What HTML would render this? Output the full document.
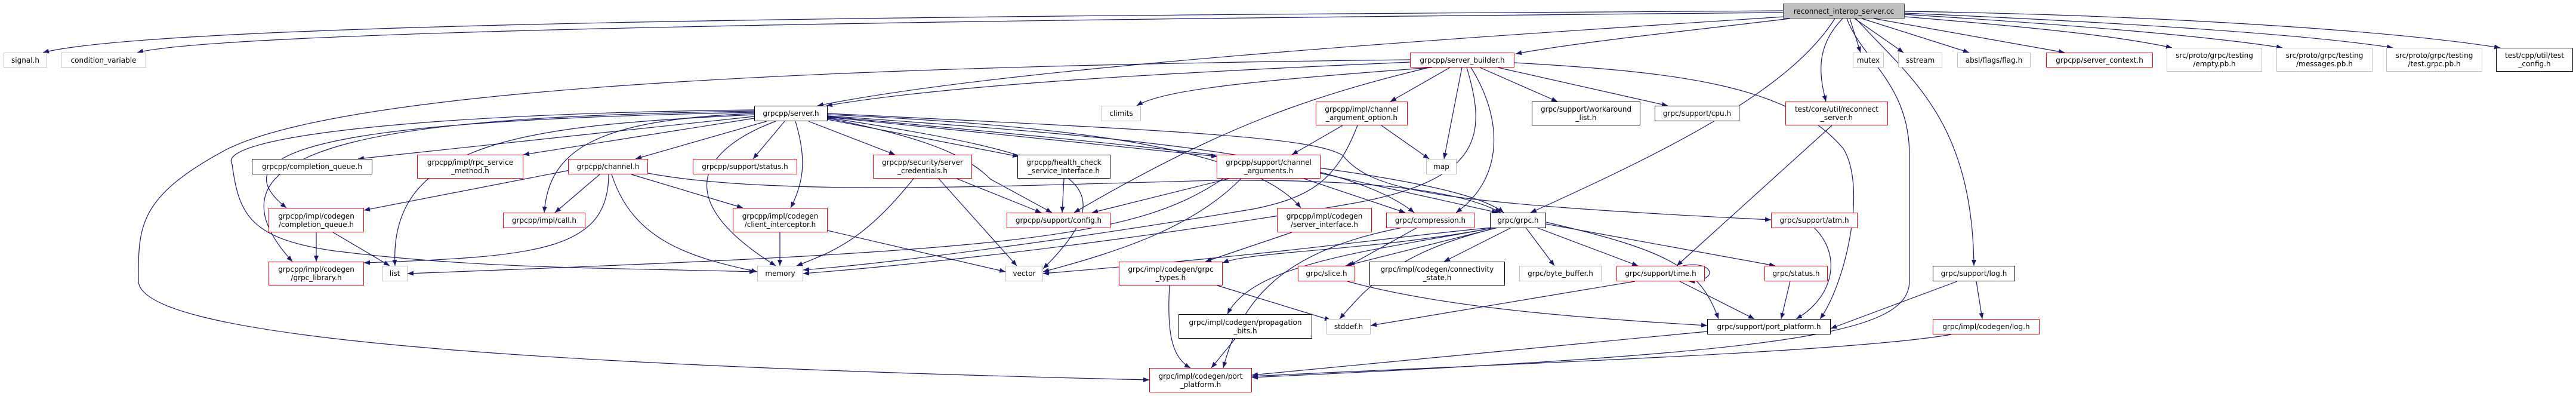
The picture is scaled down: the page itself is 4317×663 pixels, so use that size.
<!DOCTYPE html>
<html><head><meta charset="utf-8"><style>
html,body{margin:0;padding:0;background:#fff;}
#c{position:relative;width:4317px;height:663px;overflow:hidden;font-family:"DejaVu Sans","Liberation Sans",sans-serif;font-size:12px;color:#000;}
svg{position:absolute;left:0;top:0;}
.n{position:absolute;box-sizing:border-box;background:#fff;border:1px solid #000;display:flex;align-items:center;justify-content:center;text-align:center;line-height:14px;white-space:nowrap;}
.r{border-color:#f00;} .g{border-color:#bfbfbf;} .b{border-color:#000;}
</style></head><body><div id="c">
<svg width="4317" height="663" viewBox="0 0 4317 663">
<defs><marker id="a" viewBox="0 0 10 10" refX="10" refY="5" markerWidth="10" markerHeight="10" markerUnits="userSpaceOnUse" orient="auto"><path d="M0,1 L10,5 L0,9 z" fill="#191970"/></marker></defs>
<g fill="none" stroke="#191970" stroke-width="1.2" marker-end="url(#a)">
<path d="M2988,18 C2000,25 300,30 72,88"/>
<path d="M2988,21 C2000,30 400,45 230,88"/>
<path d="M2990,28 C2500,60 1700,110 1370,177"/>
<path d="M3000,31 C2800,55 2650,70 2540,90"/>
<path d="M3075,31 C3000,150 2800,250 2565,356"/>
<path d="M3088,31 C3040,80 3050,130 3060,170"/>
<path d="M3110,31 C3200,130 3305,200 3308,445"/>
<path d="M3095,31 C3120,100 3200,140 3200,260 L3200,470 C3200,560 3000,590 2098,632"/>
<path d="M3100,31 L3118,88"/>
<path d="M3108,31 L3190,88"/>
<path d="M3120,31 L3300,88"/>
<path d="M3140,31 L3460,88"/>
<path d="M3180,27 C3400,45 3550,60 3640,80"/>
<path d="M3190,24 C3450,40 3700,60 3825,80"/>
<path d="M3192,22 C3500,35 3850,55 4010,80"/>
<path d="M3192,19 C3600,25 4000,50 4190,80"/>
<path d="M2363,100 C1500,110 600,140 380,250 C230,330 232,380 232,470 C232,560 800,610 1926,636"/>
<path d="M2363,104 C2000,120 1600,140 1385,177"/>
<path d="M2400,113 C2100,135 1950,150 1905,177"/>
<path d="M2430,113 L2330,170"/>
<path d="M2450,113 L2420,266"/>
<path d="M2480,113 L2610,170"/>
<path d="M2510,113 L2795,177"/>
<path d="M2395,113 C2200,160 2050,210 1800,356"/>
<path d="M2465,113 C2520,200 2520,300 2440,356"/>
<path d="M2458,113 C2490,220 2490,300 2270,340 C2100,370 1700,430 1346,458"/>
<path d="M2538,105 C2800,120 3000,140 3090,250 C3130,320 3090,480 3050,534"/>
<path d="M1264,195 L600,266"/>
<path d="M1264,198 L877,259"/>
<path d="M1285,203 L1065,266"/>
<path d="M1315,203 L1262,266"/>
<path d="M1355,203 L1500,259"/>
<path d="M1387,200 L1707,262"/>
<path d="M1387,196 L2040,262"/>
<path d="M1333,203 C1350,260 1350,300 1325,348"/>
<path d="M1387,198 C1550,230 1620,260 1660,300 L1763,356"/>
<path d="M1300,203 C1200,240 1100,320 1300,445"/>
<path d="M1264,190 C1000,200 920,250 912,356"/>
<path d="M1264,192 C900,210 650,230 662,445"/>
<path d="M1264,188 C700,200 330,230 480,348"/>
<path d="M1264,186 C700,195 300,230 490,438"/>
<path d="M1264,184 C700,190 360,230 389,275 C400,360 420,400 560,420 C800,450 1000,448 1266,455"/>
<path d="M1387,197 C1800,260 1900,300 1748,450"/>
<path d="M1387,194 C1900,230 2250,260 2370,356"/>
<path d="M1387,192 C1800,210 2100,250 2180,348"/>
<path d="M1387,195 C2100,260 2450,300 2520,356"/>
<path d="M1387,190 C2000,220 2200,230 2250,260 C2300,320 2400,340 2968,368"/>
<path d="M955,285 L610,352"/>
<path d="M1005,292 L930,356"/>
<path d="M1020,292 C1020,420 900,430 610,440"/>
<path d="M1025,292 C1060,400 1150,430 1269,455"/>
<path d="M1058,292 L1245,348"/>
<path d="M1086,290 C1300,330 1700,310 2040,302 C2300,300 2450,320 2515,356"/>
<path d="M530,389 L530,438"/>
<path d="M558,389 L653,445"/>
<path d="M1531,299 C1450,400 1400,420 1335,445"/>
<path d="M1573,299 L1704,445"/>
<path d="M1603,299 L1745,356"/>
<path d="M1783,299 L1780,356"/>
<path d="M1307,389 L1307,445"/>
<path d="M1387,386 L1685,455"/>
<path d="M2060,299 L1830,356"/>
<path d="M2080,299 C2000,380 1880,420 1748,455"/>
<path d="M2185,299 L2355,356"/>
<path d="M2213,290 L2510,356"/>
<path d="M2050,299 C1900,400 1700,420 683,458"/>
<path d="M2250,210 L2165,259"/>
<path d="M2315,210 L2395,266"/>
<path d="M2275,210 C2240,300 2200,330 2100,350 C1800,400 1500,440 1346,452"/>
<path d="M2165,389 L2020,438"/>
<path d="M2375,381 L2260,445"/>
<path d="M2350,381 C2150,420 2080,500 2050,616"/>
<path d="M2510,381 L2255,445"/>
<path d="M2533,381 L2420,438"/>
<path d="M2557,381 L2605,445"/>
<path d="M2575,381 L2745,445"/>
<path d="M2591,375 L2975,445"/>
<path d="M2591,372 C2800,420 2850,450 2880,534"/>
<path d="M2505,381 C2300,420 2100,420 2049,440"/>
<path d="M2505,381 C2300,420 2100,440 2057,526"/>
<path d="M2510,381 C2350,420 2300,470 2245,534"/>
<path d="M2500,381 C2300,400 2200,420 1748,458"/>
<path d="M2740,471 L2297,545"/>
<path d="M2815,471 L2940,534"/>
<path d="M2820,445 C2870,435 2885,470 2830,471"/>
<path d="M3000,471 L2985,534"/>
<path d="M3040,381 C3090,430 3070,500 3010,534"/>
<path d="M3070,210 L2810,445"/>
<path d="M3280,471 L3068,550"/>
<path d="M3312,471 L3322,534"/>
<path d="M3270,560 C3100,590 2500,610 2098,630"/>
<path d="M2861,555 L2098,628"/>
<path d="M2258,471 C2400,510 2600,530 2861,545"/>
<path d="M2040,478 L2230,536"/>
<path d="M1960,478 C1955,560 1965,600 1995,616"/>
<path d="M2070,567 L2030,616"/>
</g>
</svg>
<div class="n" style="left:2988px;top:6px;width:204px;height:25px;background:#bfbfbf;border-color:#404040">reconnect_interop_server.cc</div>
<div class="n g" style="left:6px;top:88px;width:73px;height:25px">signal.h</div>
<div class="n g" style="left:102px;top:88px;width:143px;height:25px">condition_variable</div>
<div class="n r" style="left:2363px;top:88px;width:175px;height:25px">grpcpp/server_builder.h</div>
<div class="n g" style="left:3105px;top:88px;width:52px;height:25px">mutex</div>
<div class="n g" style="left:3181px;top:88px;width:74px;height:25px">sstream</div>
<div class="n g" style="left:3280px;top:88px;width:123px;height:25px">absl/flags/flag.h</div>
<div class="n r" style="left:3429px;top:88px;width:179px;height:25px">grpcpp/server_context.h</div>
<div class="n g" style="left:3631px;top:80px;width:160px;height:40px">src/proto/grpc/testing<br>/empty.pb.h</div>
<div class="n g" style="left:3815px;top:80px;width:161px;height:40px">src/proto/grpc/testing<br>/messages.pb.h</div>
<div class="n g" style="left:3999px;top:80px;width:161px;height:40px">src/proto/grpc/testing<br>/test.grpc.pb.h</div>
<div class="n b" style="left:4183px;top:80px;width:129px;height:40px">test/cpp/util/test<br>_config.h</div>
<div class="n b" style="left:1264px;top:177px;width:123px;height:26px">grpcpp/server.h</div>
<div class="n g" style="left:1846px;top:177px;width:66px;height:26px">climits</div>
<div class="n r" style="left:2205px;top:170px;width:154px;height:40px">grpcpp/impl/channel<br>_argument_option.h</div>
<div class="n b" style="left:2567px;top:170px;width:182px;height:40px">grpc/support/workaround<br>_list.h</div>
<div class="n b" style="left:2773px;top:177px;width:142px;height:26px">grpc/support/cpu.h</div>
<div class="n r" style="left:2992px;top:170px;width:172px;height:40px">test/core/util/reconnect<br>_server.h</div>
<div class="n b" style="left:422px;top:266px;width:202px;height:26px">grpcpp/completion_queue.h</div>
<div class="n r" style="left:699px;top:259px;width:178px;height:40px">grpcpp/impl/rpc_service<br>_method.h</div>
<div class="n r" style="left:952px;top:266px;width:134px;height:26px">grpcpp/channel.h</div>
<div class="n r" style="left:1161px;top:266px;width:175px;height:26px">grpcpp/support/status.h</div>
<div class="n r" style="left:1463px;top:259px;width:166px;height:40px">grpcpp/security/server<br>_credentials.h</div>
<div class="n b" style="left:1705px;top:259px;width:156px;height:40px">grpcpp/health_check<br>_service_interface.h</div>
<div class="n r" style="left:2039px;top:259px;width:174px;height:40px">grpcpp/support/channel<br>_arguments.h</div>
<div class="n g" style="left:2390px;top:266px;width:51px;height:26px">map</div>
<div class="n r" style="left:450px;top:348px;width:160px;height:41px">grpcpp/impl/codegen<br>/completion_queue.h</div>
<div class="n r" style="left:843px;top:356px;width:138px;height:26px">grpcpp/impl/call.h</div>
<div class="n r" style="left:1228px;top:348px;width:159px;height:41px">grpcpp/impl/codegen<br>/client_interceptor.h</div>
<div class="n r" style="left:1687px;top:356px;width:174px;height:26px">grpcpp/support/config.h</div>
<div class="n r" style="left:2140px;top:348px;width:159px;height:41px">grpcpp/impl/codegen<br>/server_interface.h</div>
<div class="n r" style="left:2323px;top:356px;width:148px;height:26px">grpc/compression.h</div>
<div class="n b" style="left:2497px;top:356px;width:94px;height:26px">grpc/grpc.h</div>
<div class="n r" style="left:2968px;top:356px;width:145px;height:26px">grpc/support/atm.h</div>
<div class="n r" style="left:450px;top:438px;width:160px;height:40px">grpcpp/impl/codegen<br>/grpc_library.h</div>
<div class="n g" style="left:640px;top:445px;width:43px;height:26px">list</div>
<div class="n g" style="left:1269px;top:445px;width:77px;height:26px">memory</div>
<div class="n g" style="left:1685px;top:445px;width:63px;height:26px">vector</div>
<div class="n r" style="left:1875px;top:438px;width:174px;height:40px">grpc/impl/codegen/grpc<br>_types.h</div>
<div class="n r" style="left:2175px;top:445px;width:96px;height:26px">grpc/slice.h</div>
<div class="n b" style="left:2295px;top:438px;width:227px;height:40px">grpc/impl/codegen/connectivity<br>_state.h</div>
<div class="n g" style="left:2546px;top:445px;width:138px;height:26px">grpc/byte_buffer.h</div>
<div class="n r" style="left:2709px;top:445px;width:148px;height:26px">grpc/support/time.h</div>
<div class="n r" style="left:2957px;top:445px;width:106px;height:26px">grpc/status.h</div>
<div class="n b" style="left:3239px;top:445px;width:138px;height:26px">grpc/support/log.h</div>
<div class="n b" style="left:1975px;top:526px;width:224px;height:41px">grpc/impl/codegen/propagation<br>_bits.h</div>
<div class="n g" style="left:2223px;top:534px;width:74px;height:26px">stddef.h</div>
<div class="n b" style="left:2861px;top:534px;width:207px;height:26px">grpc/support/port_platform.h</div>
<div class="n r" style="left:3239px;top:534px;width:179px;height:26px">grpc/impl/codegen/log.h</div>
<div class="n r" style="left:1926px;top:616px;width:172px;height:41px">grpc/impl/codegen/port<br>_platform.h</div>
</div></body></html>
